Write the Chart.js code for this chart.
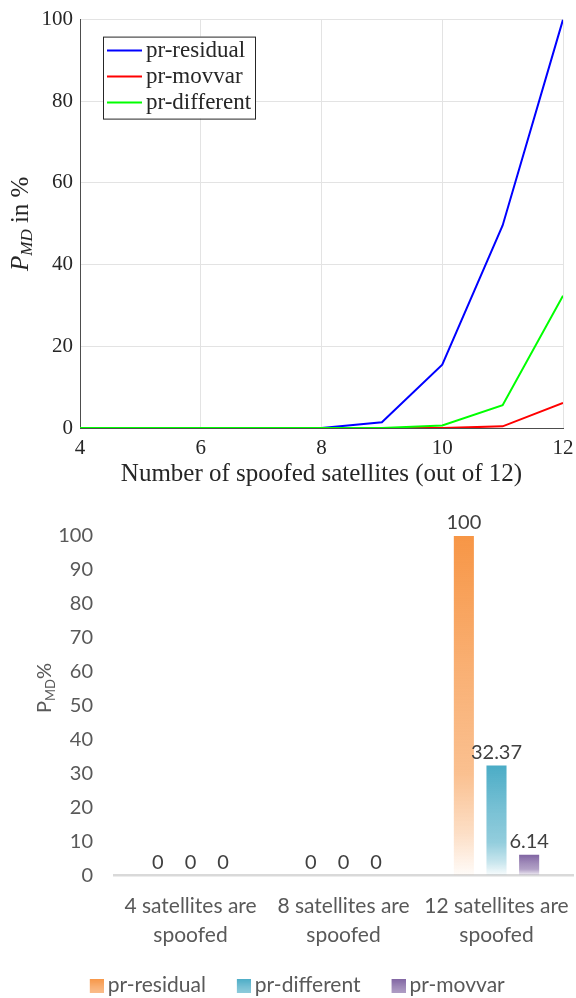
<!DOCTYPE html>
<html>
<head>
<meta charset="utf-8">
<script src="https://cdn.jsdelivr.net/npm/chart.js@4.4.0/dist/chart.umd.min.js"></script>
<style>
  html, body { margin: 0; padding: 0; background: #fff; }
  #lineChart { position: absolute; left: 0; top: 0; }
  #barChart { position: absolute; left: 0; top: 500px; }
</style>
</head>
<body>
<canvas id="lineChart" width="576" height="500"></canvas>
<canvas id="barChart" width="576" height="498"></canvas>
<script>
// top chart: P_MD vs number of spoofed satellites
const spoofedCounts = [4, 5, 6, 7, 8, 9, 10, 11, 12];
const residualPmd = [0, 0, 0, 0, 0, 1.4, 15.5, 49.6, 100];
const movvarPmd = [0, 0, 0, 0, 0, 0, 0, 0.4, 6.14];
const differentPmd = [0, 0, 0, 0, 0, 0, 0.6, 5.6, 32.37];
const lineTicksX = [4, 6, 8, 10, 12];
const lineTicksY = [0, 20, 40, 60, 80, 100];

// bottom chart: bar comparison
const barCategories = [
  ['4 satellites are', 'spoofed'],
  ['8 satellites are', 'spoofed'],
  ['12 satellites are', 'spoofed'],
];
const barResidual = [0, 0, 100];
const barDifferent = [0, 0, 32.37];
const barMovvar = [0, 0, 6.14];

const serif = 'Liberation Serif';
const sans = 'Lato';

function toPoints(values) {
  return spoofedCounts.map((x, i) => ({ x: x, y: values[i] }));
}

// rotated axis title with a subscript part
function drawSubTitle(ctx, cx, cy, parts) {
  ctx.save();
  ctx.translate(cx, cy);
  ctx.rotate(-Math.PI / 2);
  ctx.textBaseline = 'alphabetic';
  let total = 0;
  parts.forEach((p) => {
    ctx.font = p.font;
    p.w = ctx.measureText(p.text).width;
    total += p.w;
  });
  let x = -total / 2;
  parts.forEach((p) => {
    ctx.font = p.font;
    ctx.fillStyle = p.color;
    ctx.fillText(p.text, x, p.dy);
    x += p.w;
  });
  ctx.restore();
}

const lineTitlePlugin = {
  id: 'lineTitle',
  afterDraw(chart) {
    const area = chart.chartArea;
    drawSubTitle(chart.ctx, 0, (area.top + area.bottom) / 2, [
      { text: 'P', font: 'italic 25px ' + serif, color: '#262626', dy: 28 },
      { text: 'MD', font: 'italic 17px ' + serif, color: '#262626', dy: 32 },
      { text: ' in %', font: '25px ' + serif, color: '#262626', dy: 28 },
    ]);
  },
};

const lineLegendPlugin = {
  id: 'lineLegend',
  afterDraw(chart) {
    const ctx = chart.ctx;
    const area = chart.chartArea;
    const bx = area.left + 23;
    const by = area.top + 17;
    ctx.save();
    ctx.fillStyle = '#fff';
    ctx.fillRect(bx, by, 152, 82);
    ctx.strokeStyle = '#262626';
    ctx.lineWidth = 1;
    ctx.strokeRect(bx + 0.5, by + 0.5, 152, 82);
    ctx.font = '23px ' + serif;
    ctx.textBaseline = 'middle';
    chart.data.datasets.forEach((ds, i) => {
      const y = by + 14 + i * 26;
      ctx.strokeStyle = ds.borderColor;
      ctx.lineWidth = 2;
      ctx.beginPath();
      ctx.moveTo(bx + 4, y);
      ctx.lineTo(bx + 39, y);
      ctx.stroke();
      ctx.fillStyle = '#262626';
      ctx.fillText(ds.label, bx + 43, y);
    });
    ctx.restore();
  },
};

new Chart(document.getElementById('lineChart'), {
  type: 'line',
  data: {
    datasets: [
      { label: 'pr-residual', data: toPoints(residualPmd), borderColor: '#0000ff', order: 3 },
      { label: 'pr-movvar', data: toPoints(movvarPmd), borderColor: '#ff0000', order: 2 },
      { label: 'pr-different', data: toPoints(differentPmd), borderColor: '#00ff00', order: 1 },
    ],
  },
  options: {
    responsive: false,
    animation: false,
    layout: { padding: { left: 0, top: 17, right: 13, bottom: 0 } },
    elements: {
      line: { borderWidth: 2, tension: 0 },
      point: { radius: 0 },
    },
    plugins: { legend: { display: false }, tooltip: { enabled: false } },
    scales: {
      x: {
        type: 'linear',
        min: 4,
        max: 12,
        afterBuildTicks: (s) => { s.ticks = lineTicksX.map((v) => ({ value: v })); },
        afterFit: (s) => { s.height = 72; s.paddingRight = 0; s.paddingLeft = 0; },
        grid: { color: '#e3e3e3', drawTicks: false },
        border: { color: '#4d4d4d', width: 1 },
        ticks: { font: { family: serif, size: 21 }, color: '#262626', padding: 8 },
        title: {
          display: true,
          text: 'Number of spoofed satellites (out of 12)',
          font: { family: serif, size: 25 },
          color: '#262626',
          padding: { top: 0, bottom: 11 },
        },
      },
      y: {
        min: 0,
        max: 100,
        afterBuildTicks: (s) => { s.ticks = lineTicksY.map((v) => ({ value: v })); },
        afterFit: (s) => { s.width = 80; },
        grid: { color: '#e3e3e3', drawTicks: false },
        border: { color: '#4d4d4d', width: 1 },
        ticks: { font: { family: serif, size: 21 }, color: '#262626', padding: 7 },
      },
    },
  },
  plugins: [lineTitlePlugin, lineLegendPlugin],
});

// ---- bar chart ----
const barColors = [
  [247, 150, 70],
  [75, 172, 198],
  [128, 100, 162],
];

function addFadeStops(grad, c) {
  const rgba = (a) => `rgba(${c[0]},${c[1]},${c[2]},${a})`;
  grad.addColorStop(0, rgba(1));
  grad.addColorStop(0.4, rgba(0.75));
  grad.addColorStop(0.7, rgba(0.6));
  grad.addColorStop(0.88, rgba(0.3));
  grad.addColorStop(1, rgba(0.03));
  return grad;
}

function barFill(c) {
  return (context) => {
    const chart = context.chart;
    const yScale = chart.scales.y;
    if (context.type !== 'data' || !yScale || !chart.chartArea) return `rgb(${c})`;
    const top = yScale.getPixelForValue(context.parsed.y);
    const bottom = yScale.getPixelForValue(0);
    if (bottom - top < 1) return `rgb(${c})`;
    return addFadeStops(chart.ctx.createLinearGradient(0, top, 0, bottom), c);
  };
}

function legendSwatch(c) {
  const cv = document.createElement('canvas');
  cv.width = 32;
  cv.height = 14;
  const g = cv.getContext('2d');
  g.fillStyle = addFadeStops(g.createLinearGradient(0, 0, 0, 22), c);
  g.fillRect(18, 0, 14, 14);
  return cv;
}
const swatches = barColors.map(legendSwatch);

const barLabelPlugin = {
  id: 'barLabels',
  afterDatasetsDraw(chart) {
    const ctx = chart.ctx;
    ctx.save();
    ctx.font = '20px ' + sans;
    ctx.fillStyle = '#404040';
    ctx.textAlign = 'center';
    ctx.textBaseline = 'alphabetic';
    chart.data.datasets.forEach((ds, i) => {
      chart.getDatasetMeta(i).data.forEach((bar, j) => {
        ctx.fillText(String(ds.data[j]), bar.x, bar.y - 7);
      });
    });
    ctx.restore();
  },
};

const barTitlePlugin = {
  id: 'barTitle',
  afterDraw(chart) {
    drawSubTitle(chart.ctx, 0, 188, [
      { text: 'P', font: '20px ' + sans, color: '#595959', dy: 51 },
      { text: 'MD', font: '13px ' + sans, color: '#595959', dy: 55 },
      { text: '%', font: '20px ' + sans, color: '#595959', dy: 51 },
    ]);
  },
};

new Chart(document.getElementById('barChart'), {
  type: 'bar',
  data: {
    labels: barCategories,
    datasets: [
      { label: 'pr-residual', data: barResidual, backgroundColor: barFill(barColors[0]) },
      { label: 'pr-different', data: barDifferent, backgroundColor: barFill(barColors[1]) },
      { label: 'pr-movvar', data: barMovvar, backgroundColor: barFill(barColors[2]) },
    ],
  },
  options: {
    responsive: false,
    animation: false,
    layout: { padding: { left: 10, top: 36, right: 3, bottom: -8 } },
    datasets: { bar: { categoryPercentage: 0.64, barPercentage: 0.615 } },
    plugins: {
      tooltip: { enabled: false },
      legend: {
        position: 'bottom',
        labels: {
          font: { family: sans, size: 21 },
          color: '#595959',
          usePointStyle: true,
          boxWidth: 19,
          padding: 19.5,
          generateLabels: (chart) => {
            const items = Chart.defaults.plugins.legend.labels.generateLabels(chart);
            items.forEach((it, i) => { it.pointStyle = swatches[i]; });
            return items;
          },
        },
      },
    },
    scales: {
      x: {
        afterFit: (s) => { s.height = 80; s.paddingRight = 0; s.paddingLeft = 0; },
        grid: { display: false, drawTicks: false },
        border: { color: '#d9d9d9', width: 2.5 },
        ticks: {
          font: { family: sans, size: 21, lineHeight: 1.35 },
          color: '#595959',
          padding: 17,
          maxRotation: 0,
          autoSkip: false,
        },
      },
      y: {
        min: 0,
        max: 100,
        afterFit: (s) => { s.width = 104; },
        grid: { display: false, drawTicks: false },
        border: { display: false },
        ticks: { stepSize: 10, font: { family: sans, size: 20 }, color: '#595959', padding: 21 },
      },
    },
  },
  plugins: [barLabelPlugin, barTitlePlugin],
});
</script>
</body>
</html>
